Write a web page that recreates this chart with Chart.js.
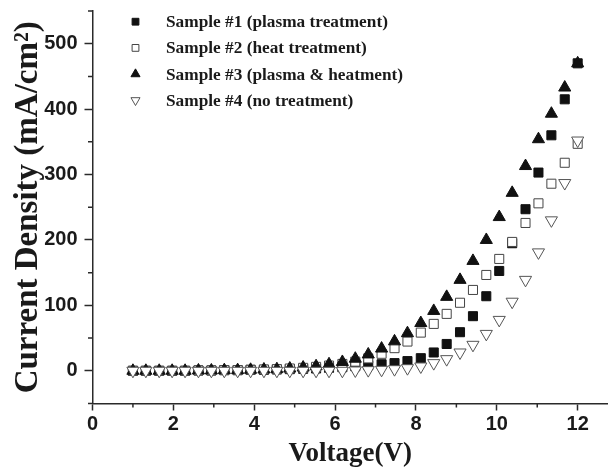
<!DOCTYPE html>
<html><head><meta charset="utf-8">
<script src="https://cdn.jsdelivr.net/npm/chart.js@4.4.1/dist/chart.umd.min.js"></script>
<style>html,body{margin:0;padding:0;background:#fff;overflow:hidden}#wrap{width:608px;height:472px;position:relative}</style>
</head><body><div id="wrap"><canvas id="c" width="608" height="472"></canvas></div>
<script>
// ---- data ----
const voltage = [1.00,1.32,1.65,1.97,2.29,2.62,2.94,3.26,3.59,3.91,4.24,4.56,4.88,5.21,5.53,5.85,6.18,6.50,6.82,7.15,7.47,7.79,8.12,8.44,8.76,9.09,9.41,9.74,10.06,10.38,10.71,11.03,11.35,11.68,12.00];
const sample1 = [0,0,0,0,0,0.5,0.5,1,1,1.5,1.5,2,2.5,3,3.5,4.5,5.5,7,8.5,10,11.7,14.8,19.3,28,41,59,83.5,114,152.6,195,247,303,360,415,470];
const sample2 = [0,0,0,0,0,0.5,0.5,1,1,1.5,2,2.5,3.5,4.5,6,8,10.5,14,19,26,34.6,44.7,58.4,71.7,87,104,123.6,146.5,171,197,226,256,286,318,347];
const sample3 = [0,0,0,0,0,0.5,0.5,1,1,1.5,2,2.5,3.5,5,7,10,13.5,18.5,25,34,45,57.5,73,91.5,113,139,168,200,235,272,313,354,393,433,470];
const sample4 = [0,0,0,0,0,0,0,0,0,0,0,0,0,0,0,0,0,0.5,1,1.5,2.5,4,6.6,11.7,17.8,28,39.7,56.4,77.8,105.6,139,181,230,287,352];
const seriesNames = ['Sample #1 (plasma treatment)','Sample #2 (heat treatment)','Sample #3 (plasma & heatment)','Sample #4 (no treatment)'];
const xTickValues = [0,2,4,6,8,10,12];
const yTickValues = [0,100,200,300,400,500];
const xMinorTicks = [1,3,5,7,9,11];
const yMinorTicks = [-50,50,150,250,350,450,550];

const toPts = ys => ys.map((y, i) => ({x: voltage[i], y}));
const TICK_FONT = {family: '"Liberation Sans Narrow", "Liberation Sans", Arial, sans-serif', size: 20, weight: 'bold'};
const XTITLE_FONT = {family: '"Liberation Serif", "Times New Roman", serif', size: 27, weight: 'bold'};
const YTITLE_FONT = {family: '"Liberation Serif", "Times New Roman", serif', size: 33, weight: 'bold'};
const AXIS_COLOR = '#2a2a2a';

const minorTicks = {
  id: 'minorTicks',
  afterDraw(chart) {
    const ctx = chart.ctx, xs = chart.scales.x, ys = chart.scales.y, ca = chart.chartArea;
    ctx.save();
    ctx.strokeStyle = AXIS_COLOR; ctx.lineWidth = 1.5;
    ctx.beginPath();
    xMinorTicks.forEach(v => { const p = xs.getPixelForValue(v); ctx.moveTo(p, ca.bottom); ctx.lineTo(p, ca.bottom + 4); });
    yMinorTicks.forEach(v => { const p = ys.getPixelForValue(v); ctx.moveTo(ca.left - 4.5, p); ctx.lineTo(ca.left, p); });
    ctx.stroke();
    ctx.restore();
  }
};

const insideLegend = {
  id: 'insideLegend',
  afterDraw(chart) {
    const ctx = chart.ctx, ca = chart.chartArea;
    chart.data.datasets.forEach((ds, i) => {
      const mx = ca.left + 43, my = ca.top + 10.7 + i * 26.2;
      ctx.save();
      ctx.fillStyle = ds.pointBackgroundColor; ctx.strokeStyle = ds.pointBorderColor; ctx.lineWidth = 1;
      Chart.helpers.drawPoint(ctx, {pointStyle: ds.pointStyle, radius: ds.pointRadius * 0.75, rotation: ds.pointRotation || 0, borderWidth: 1}, mx, my);
      ctx.fillStyle = '#1a1a1a';
      ctx.font = 'bold 17.3px "Liberation Serif", "Times New Roman", serif';
      ctx.textBaseline = 'middle'; ctx.textAlign = 'left';
      ctx.fillText(ds.label, mx + 30.5, my + 1);
      ctx.restore();
    });
  }
};

new Chart(document.getElementById('c'), {
  type: 'scatter',
  data: {
    datasets: [
      {label: seriesNames[0], data: toPts(sample1), pointStyle: 'rect', pointRadius: 6.4, pointBackgroundColor: '#111', pointBorderColor: '#111', pointBorderWidth: 1, order: 4},
      {label: seriesNames[1], data: toPts(sample2), pointStyle: 'rect', pointRadius: 6.4, pointBackgroundColor: '#fff', pointBorderColor: '#444', pointBorderWidth: 1, order: 3},
      {label: seriesNames[2], data: toPts(sample3), pointStyle: 'triangle', pointRadius: 7, pointBackgroundColor: '#111', pointBorderColor: '#111', pointBorderWidth: 1, order: 2},
      {label: seriesNames[3], data: toPts(sample4), pointStyle: 'triangle', pointRotation: 180, pointRadius: 7, pointBackgroundColor: '#fff', pointBorderColor: '#555', pointBorderWidth: 1, order: 1}
    ]
  },
  options: {
    responsive: false, animation: false, events: [],
    layout: {autoPadding: false, padding: {top: 11, right: 0, bottom: 0, left: 0}},
    plugins: {legend: {display: false}, tooltip: {enabled: false}},
    scales: {
      x: {
        type: 'linear', min: 0, max: 12.75,
        afterFit: s => { s.height = 68.5; s.paddingLeft = 0; s.paddingRight = 0; },
        border: {display: true, color: AXIS_COLOR, width: 1.5},
        grid: {display: true, drawOnChartArea: false, drawTicks: true, tickLength: 7, tickColor: AXIS_COLOR, tickWidth: 1.5},
        ticks: {stepSize: 2, includeBounds: false, autoSkip: false, maxRotation: 0, padding: 2, color: '#1a1a1a', font: TICK_FONT,
                callback: v => xTickValues.includes(v) ? String(v) : ''},
        title: {display: true, text: 'Voltage(V)', color: '#1a1a1a', font: XTITLE_FONT, padding: {top: 0, bottom: 2}}
      },
      y: {
        type: 'linear', min: -50, max: 550,
        afterFit: s => { s.width = 92.5; s.paddingTop = 0; s.paddingBottom = 0; },
        border: {display: true, color: AXIS_COLOR, width: 1.5},
        grid: {display: true, drawOnChartArea: false, drawTicks: true, tickLength: 8, tickWidth: 1.5,
               tickColor: c => (c.tick && yTickValues.includes(c.tick.value)) ? AXIS_COLOR : 'rgba(0,0,0,0)'},
        ticks: {stepSize: 50, autoSkip: false, padding: 7, color: '#1a1a1a', font: TICK_FONT,
                callback: v => yTickValues.includes(v) ? String(v) : ''},
        title: {display: true, text: 'Current Density (mA/cm²)', color: '#1a1a1a', font: YTITLE_FONT, padding: {top: 9, bottom: 0}}
      }
    }
  },
  plugins: [minorTicks, insideLegend]
});
</script></body></html>
